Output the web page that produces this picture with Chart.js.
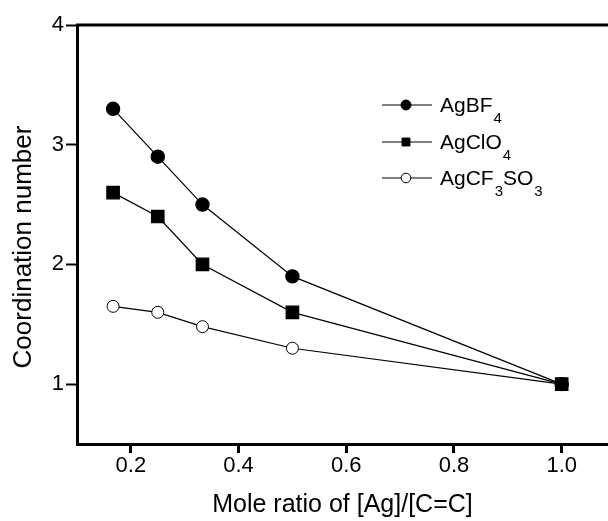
<!DOCTYPE html>
<html>
<head>
<meta charset="utf-8">
<script src="https://cdn.jsdelivr.net/npm/chart.js@4/dist/chart.umd.min.js"></script>
<style>
  html, body { margin: 0; padding: 0; background: #fff; }
  #wrap { width: 608px; height: 521px; }
</style>
</head>
<body>
<div id="wrap"><canvas id="grafico" width="608" height="521"></canvas></div>
<script>
// mole ratio [Ag]/[C=C] and coordination numbers per salt
const razonMolar = [0.167, 0.25, 0.333, 0.5, 1.0];
const agBF4 = [3.3, 2.9, 2.5, 1.9, 1.0];
const agClO4 = [2.6, 2.4, 2.0, 1.6, 1.0];
const agCF3SO3 = [1.65, 1.6, 1.48, 1.3, 1.0];
const nombresSerie = ['AgBF_4', 'AgClO_4', 'AgCF_3SO_3'];
const ticksX = [0.2, 0.4, 0.6, 0.8, 1.0];
const ticksY = [1, 2, 3, 4];
const tituloY = 'Coordination number';

const fuente = '"Liberation Sans", Arial, sans-serif';

function puntos(valores) {
    return razonMolar.map((x, i) => ({ x: x, y: valores[i] }));
}

// leyenda propia para poder poner los subíndices, y el título vertical
const leyendaSub = {
    id: 'leyendaSub',
    afterDraw(chart) {
        const ctx = chart.ctx;
        const filas = [105, 142, 178];
        const xMarca = 406;
        ctx.save();
        chart.data.datasets.forEach((ds, i) => {
            const y = filas[i];
            ctx.strokeStyle = '#000';
            ctx.lineWidth = 1.2;
            ctx.beginPath();
            ctx.moveTo(382, y);
            ctx.lineTo(432, y);
            ctx.stroke();
            ctx.fillStyle = ds.pointBackgroundColor;
            ctx.lineWidth = 1;
            ctx.beginPath();
            if (ds.pointStyle === 'rect') {
                const s = ds.legendRadius * Math.SQRT1_2;
                ctx.rect(xMarca - s, y - s, 2 * s, 2 * s);
            } else {
                ctx.arc(xMarca, y, ds.legendRadius, 0, Math.PI * 2);
            }
            ctx.fill();
            ctx.stroke();

            // texto con subíndices
            const partes = nombresSerie[i].split(/_(\d)/);
            let x = 440;
            ctx.fillStyle = '#000';
            ctx.textBaseline = 'alphabetic';
            partes.forEach((p, k) => {
                if (!p) return;
                const sub = k % 2 === 1;
                ctx.font = (sub ? '15px ' : '21px ') + fuente;
                ctx.fillText(p, x, y + (sub ? 18 : 7));
                x += ctx.measureText(p).width + (sub ? 0 : 1);
            });
        });

        // linea superior del marco
        const a = chart.chartArea;
        ctx.strokeStyle = '#000';
        ctx.lineWidth = 3;
        ctx.beginPath();
        ctx.moveTo(a.left - 1, a.top);
        ctx.lineTo(a.right, a.top);
        ctx.stroke();

        // título del eje y
        ctx.translate(24, 247);
        ctx.rotate(-Math.PI / 2);
        ctx.font = '26px ' + fuente;
        ctx.textAlign = 'center';
        ctx.textBaseline = 'middle';
        ctx.fillStyle = '#000';
        ctx.fillText(tituloY, 0, 0);
        ctx.restore();
    }
};

const ctx = document.getElementById('grafico');

new Chart(ctx, {
    type: 'line',
    data: {
        datasets: [
            {
                label: 'AgBF4',
                data: puntos(agBF4),
                borderColor: '#000',
                borderWidth: 1.2,
                pointStyle: 'circle',
                pointRadius: 6.6,
                pointBackgroundColor: '#000',
                pointBorderColor: '#000',
                legendRadius: 5
            },
            {
                label: 'AgClO4',
                data: puntos(agClO4),
                borderColor: '#000',
                borderWidth: 1.2,
                pointStyle: 'rect',
                pointRadius: 8.8,
                pointBackgroundColor: '#000',
                pointBorderColor: '#000',
                legendRadius: 5.6
            },
            {
                label: 'AgCF3SO3',
                data: puntos(agCF3SO3),
                borderColor: '#000',
                borderWidth: 1.2,
                pointStyle: 'circle',
                pointRadius: 6,
                pointBackgroundColor: '#fff',
                pointBorderColor: '#000',
                pointBorderWidth: 1,
                legendRadius: 4.8
            }
        ]
    },
    options: {
        responsive: false,
        animation: false,
        layout: { autoPadding: false, padding: { top: 25, right: 0, left: 0, bottom: 0 } },
        plugins: {
            legend: { display: false },
            tooltip: { enabled: false }
        },
        scales: {
            x: {
                type: 'linear',
                min: 0.1,
                max: 1.086,
                afterBuildTicks: (eje) => { eje.ticks = ticksX.map(v => ({ value: v })); },
                afterFit: (eje) => { eje.height = 77; eje.paddingLeft = 0; eje.paddingRight = 0; },
                border: { display: true, color: '#000', width: 3 },
                grid: { drawOnChartArea: false, drawTicks: true, tickLength: 9, tickWidth: 3, tickColor: '#000' },
                ticks: {
                    color: '#000',
                    padding: 0,
                    font: { family: fuente, size: 22 },
                    callback: (v) => v.toFixed(1)
                },
                title: {
                    display: true,
                    text: 'Mole ratio of [Ag]/[C=C]',
                    color: '#000',
                    font: { family: fuente, size: 25 },
                    padding: { top: 0, bottom: 1 }
                }
            },
            y: {
                type: 'linear',
                min: 0.5,
                max: 4,
                afterBuildTicks: (eje) => { eje.ticks = ticksY.map(v => ({ value: v })); },
                afterFit: (eje) => { eje.width = 77; },
                border: { display: true, color: '#000', width: 3 },
                grid: { drawOnChartArea: false, drawTicks: true, tickLength: 11, tickWidth: 2, tickColor: '#000' },
                ticks: {
                    color: '#000',
                    padding: 2,
                    font: { family: fuente, size: 22 },
                    callback: (v) => String(v)
                },
                title: { display: false }
            }
        }
    },
    plugins: [leyendaSub]
});
</script>
</body>
</html>
